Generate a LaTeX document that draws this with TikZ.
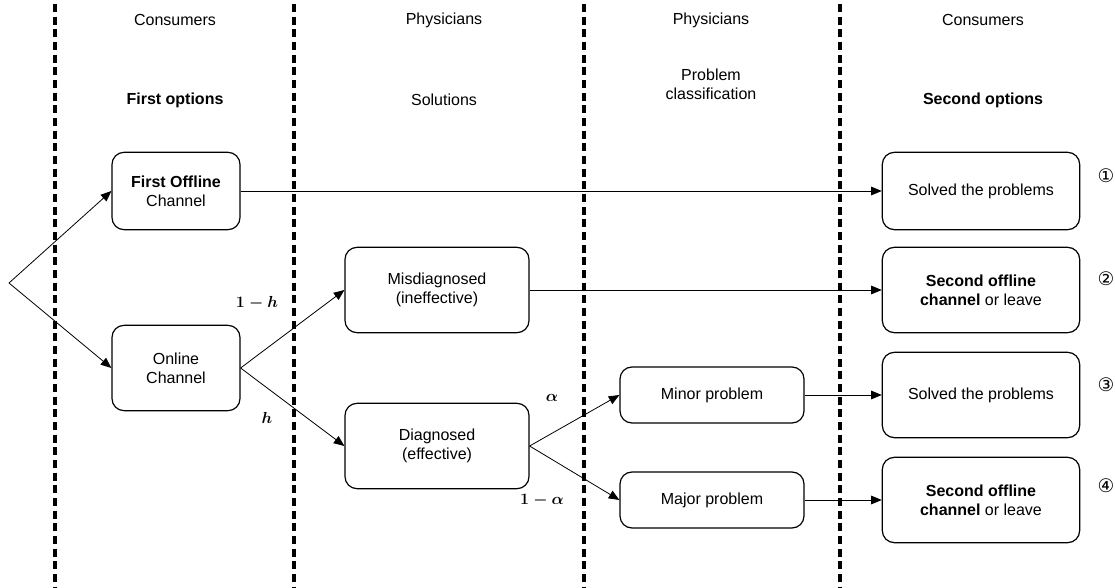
\documentclass[tikz,border=0pt]{standalone}
\usepackage{fontspec}
\setmainfont{Liberation Sans}
\newfontfamily\circfont{DejaVu Sans}
\usepackage{amsmath, amssymb}
\usetikzlibrary{arrows.meta, positioning, calc}

\begin{document}
\begin{tikzpicture}[
  x=0.75pt, y=-0.75pt,
  font=\fontsize{12}{14.5}\selectfont,
  box/.style   = {draw, rounded corners=9pt, line width=0.9pt, align=center,
                  inner sep=0pt, minimum width=138pt, minimum height=64pt},
  small/.style = {box, minimum width=96pt},
  flat/.style  = {box, minimum height=42pt},
  wide/.style  = {box, minimum width=148pt},
  head/.style  = {align=center},
  lab/.style   = {inner sep=0pt},
  num/.style   = {font=\circfont\fontsize{14}{14}\selectfont},
  arr/.style   = {-{Triangle[length=8pt,width=6.5pt]}, line width=0.6pt},
  lane/.style  = {line width=2.4pt, dash pattern=on 6pt off 3.5pt}
]
\useasboundingbox (0,0) rectangle (1115,588);

% swim lanes
\foreach \x in {55,294,584,840}
  \draw[lane] (\x,4) -- (\x,588);

% column heads
\node[head] (c1) at (175,20)  {Consumers};
\node[head] (c2) at (444,20)  {Physicians};
\node[head] (c3) at (711,20)  {Physicians};
\node[head] (c4) at (983,20)  {Consumers};
\node[head] (o1) at (175,100) {\textbf{First options}};
\node[head] (o2) at (444,100) {Solutions};
\node[head] (o3) at (711,84)  {Problem\\classification};
\node[head] (o4) at (983,100) {\textbf{Second options}};

% boxes
\node[small, minimum height=58pt] (foff) at (176,191) {\textbf{First Offline}\\Channel};
\node[small]                      (onl)  at (176,368) {Online\\Channel};
\node[box]                        (mis)  at (437,290) {Misdiagnosed\\(ineffective)};
\node[box]                        (dia)  at (437,446) {Diagnosed\\(effective)};
\node[flat]                       (minor) at (712,395) {Minor problem};
\node[flat]                       (major) at (712,500) {Major problem};
\node[wide, minimum height=58pt]  (sol1) at (981,191) {Solved the problems};
\node[wide]                       (sec2) at (981,290) {\textbf{Second offline}\\\textbf{channel} or leave};
\node[wide]                       (sol3) at (981,395) {Solved the problems};
\node[wide]                       (sec4) at (981,500) {\textbf{Second offline}\\\textbf{channel} or leave};

% outcome numbers
\node[num] (n1) at (1106,176) {①};
\node[num] (n2) at (1106,279) {②};
\node[num] (n3) at (1106,385) {③};
\node[num] (n4) at (1106,486) {④};

% branches
\coordinate (start) at (9,283);
\draw[arr] (start) -- (foff.west);
\draw[arr] (start) -- (onl.west);
\foreach \a/\b in {onl/mis, onl/dia, dia/minor, dia/major,
                   foff/sol1, mis/sec2, minor/sol3, major/sec4}
  \draw[arr] (\a.east) -- (\b.west);

% probabilities
\node[lab] (p1) at (257,303) {$\boldsymbol{1-h}$};
\node[lab] (p2) at (267,418) {$\boldsymbol{h}$};
\node[lab] (p3) at (552,398) {$\boldsymbol{\alpha}$};
\node[lab] (p4) at (542,500) {$\boldsymbol{1-\alpha}$};
\end{tikzpicture}
\end{document}
